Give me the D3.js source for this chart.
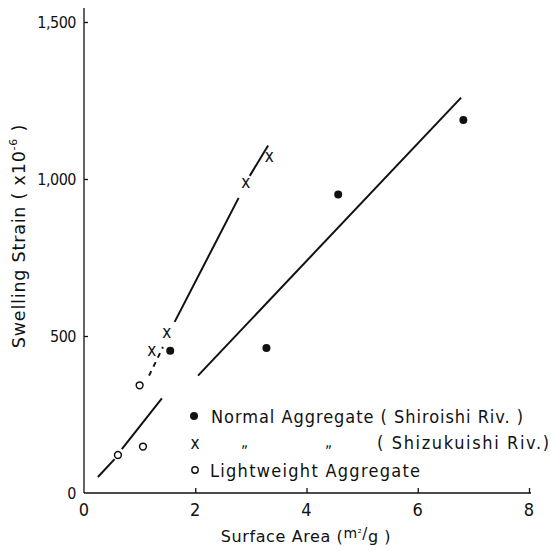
<!DOCTYPE html>
<html>
<head>
<meta charset="utf-8">
<script src="https://cdn.jsdelivr.net/npm/d3@7"></script>
<style>
  body { margin: 0; background: #fff; }
  svg { display: block; }
  text { font-family: "DejaVu Sans Condensed", "DejaVu Sans", sans-serif; fill: #111; }
  .wide { font-family: "DejaVu Sans", sans-serif; }
</style>
</head>
<body>
<div id="chart"></div>
<script>
// data
var normalPts = [[1.55, 453], [3.28, 462], [4.57, 951], [6.82, 1188]];   // Shiroishi Riv.
var shizPts = [[1.22, 452], [1.49, 510], [2.91, 987], [3.33, 1070]];     // Shizukuishi Riv.
var lightPts = [[0.61, 121], [1.06, 148], [1.0, 343]];                   // Lightweight

// hand drawn fit lines (segments, with breaks where the original has them)
var normalLine = [[[2.05, 374], [6.78, 1259]]];
var shizLine = [[[1.63, 545], [2.78, 940]], [[2.98, 1010], [3.31, 1107]]];
var shizDash = [[[1.17, 374], [1.42, 465]]];
var lightLine = [[[0.25, 51], [0.55, 108]], [[0.68, 140], [1.40, 301]]];

var xTicks = [0, 2, 4, 6, 8];
var yTicks = [0, 500, 1000, 1500];
var yTickLabels = ["0", "500", "1,000", "1,500"];

var width = 551, height = 551;
var svg = d3.select("#chart").append("svg")
    .attr("width", width)
    .attr("height", height);

var x = d3.scaleLinear().domain([0, 8]).range([84, 529]);
var y = d3.scaleLinear().domain([0, 1500]).range([493, 22]);

// axes
var xAxis = svg.append("g")
    .attr("transform", "translate(0," + y(0) + ")")
    .call(d3.axisBottom(x).tickValues(xTicks.slice(1)).tickSize(-5).tickFormat(""));
xAxis.select(".domain").attr("d", "M" + x(0) + ",0H" + (x(8) + 2));

var yAxis = svg.append("g")
    .attr("transform", "translate(" + x(0) + ",0)")
    .call(d3.axisLeft(y).tickValues(yTicks.slice(1)).tickSize(-4).tickFormat(""));
yAxis.select(".domain").attr("d", "M0," + (y(0)) + "V" + (y(1500) - 14));

svg.selectAll(".domain, .tick line").attr("stroke", "#111").attr("stroke-width", 1.3);

// tick labels
svg.selectAll(".xlab").data(xTicks).enter().append("text")
    .attr("x", d => x(d))
    .attr("y", y(0) + 23)
    .attr("text-anchor", "middle")
    .style("font-size", "18px")
    .text(d => d);

svg.selectAll(".ylab").data(yTicks).enter().append("text")
    .attr("x", x(0) - 8)
    .attr("y", d => y(d) + 6)
    .attr("text-anchor", "end")
    .style("font-size", "16px")
    .style("letter-spacing", "-0.5px")
    .text((d, i) => yTickLabels[i]);

// axis titles
var xt = svg.append("text")
    .attr("class", "wide")
    .attr("x", 306)
    .attr("y", 542)
    .attr("text-anchor", "middle")
    .style("font-size", "16px")
    .style("letter-spacing", "0.6px");
xt.append("tspan").text("Surface Area (");
xt.append("tspan").text("m").style("font-size", "14px").attr("dy", -4);
xt.append("tspan").text("²").style("font-size", "10px").attr("dy", -1);
xt.append("tspan").text("/").style("font-size", "15px").attr("dy", 2);
xt.append("tspan").text("g").attr("dy", 3);
xt.append("tspan").text(" )");

var yt = svg.append("text")
    .attr("class", "wide")
    .attr("transform", "translate(25,236) rotate(-90)")
    .attr("text-anchor", "middle")
    .style("font-size", "17.5px")
    .style("letter-spacing", "0.8px");
yt.append("tspan").text("Swelling  Strain ( x10");
yt.append("tspan").text("-6").style("font-size", "11px").attr("dy", -8);
yt.append("tspan").text(" )").attr("dy", 8);

// fit lines
var line = d3.line().x(d => x(d[0])).y(d => y(d[1]));
function drawSegs(segs, dash) {
  svg.selectAll(null).data(segs).enter().append("path")
      .attr("d", line)
      .attr("fill", "none")
      .attr("stroke", "#111")
      .attr("stroke-width", 2)
      .attr("stroke-dasharray", dash || null);
}
drawSegs(normalLine);
drawSegs(shizLine);
drawSegs(shizDash, "5,5");
drawSegs(lightLine);

// markers
svg.selectAll(".dot").data(normalPts).enter().append("circle")
    .attr("cx", d => x(d[0])).attr("cy", d => y(d[1]))
    .attr("r", 4).attr("fill", "#111");

svg.selectAll(".cross").data(shizPts).enter().append("text")
    .attr("x", d => x(d[0])).attr("y", d => y(d[1]) + 5)
    .attr("text-anchor", "middle")
    .style("font-size", "17px")
    .text("x");

svg.selectAll(".ring").data(lightPts).enter().append("circle")
    .attr("cx", d => x(d[0])).attr("cy", d => y(d[1]))
    .attr("r", 3.4).attr("fill", "#fff")
    .attr("stroke", "#111").attr("stroke-width", 1.5);

// legend
var legend = svg.append("g").attr("class", "wide").style("font-size", "18px");
legend.append("circle").attr("cx", 194).attr("cy", 416).attr("r", 4).attr("fill", "#111");
legend.append("text").attr("x", 211).attr("y", 423).attr("textLength", 312)
    .text("Normal Aggregate ( Shiroishi Riv. )");
legend.append("text").attr("x", 195).attr("y", 449).attr("text-anchor", "middle").style("font-size", "17px").text("x");
legend.append("text").attr("x", 241).attr("y", 447).text("\u201E").style("font-size", "15px");
legend.append("text").attr("x", 325).attr("y", 447).text("\u201E").style("font-size", "15px");
legend.append("text").attr("x", 377).attr("y", 449).attr("textLength", 172).text("( Shizukuishi Riv.)");
legend.append("circle").attr("cx", 195).attr("cy", 470).attr("r", 3.2)
    .attr("fill", "#fff").attr("stroke", "#111").attr("stroke-width", 1.4);
legend.append("text").attr("x", 210).attr("y", 477).attr("textLength", 210).text("Lightweight Aggregate");
</script>
</body>
</html>
